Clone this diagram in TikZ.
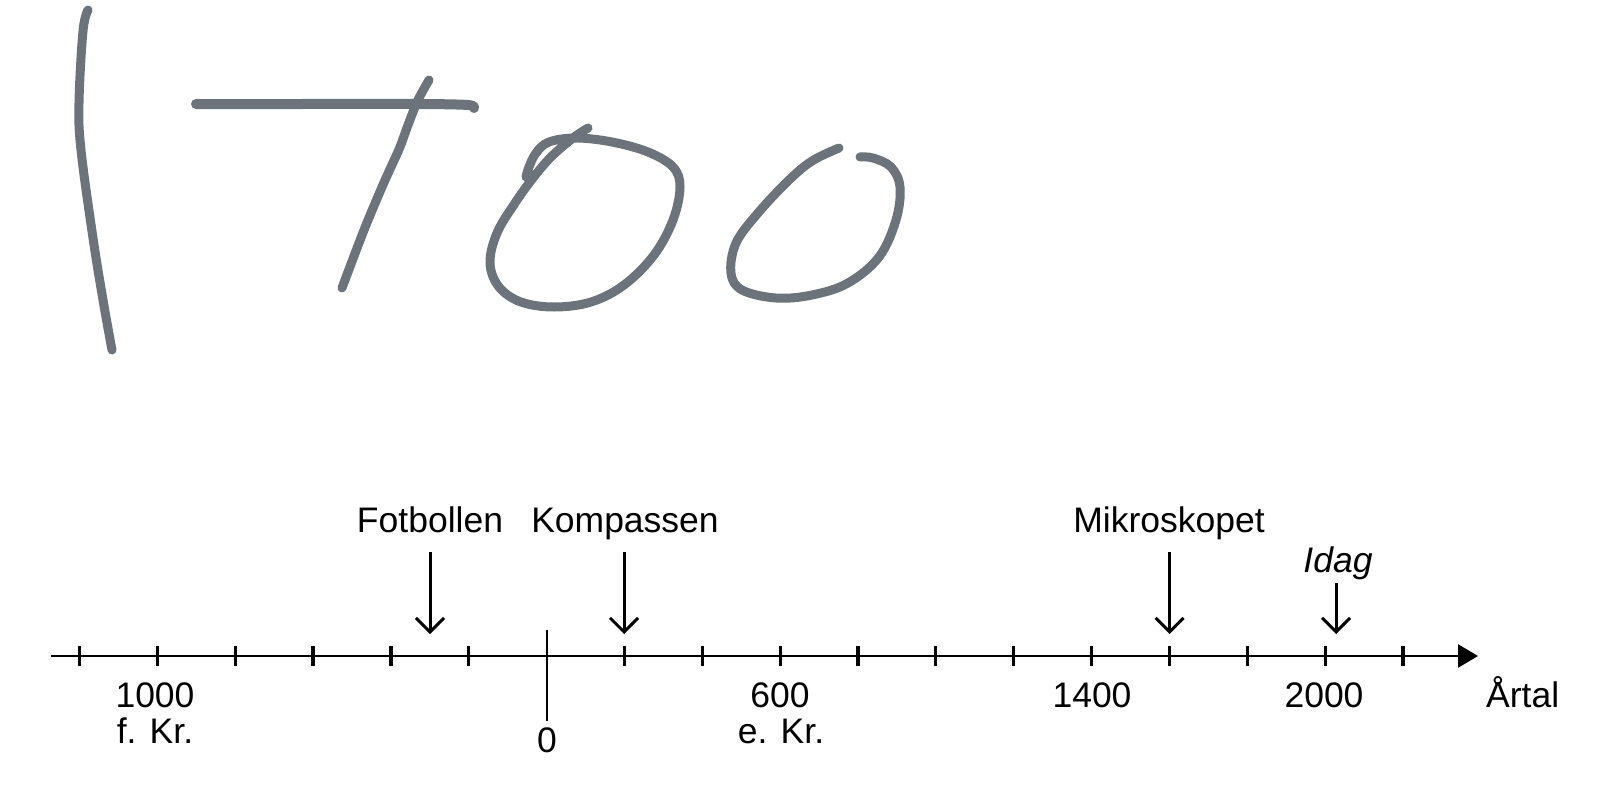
\documentclass[tikz,border=0pt]{standalone}
\usepackage{fontspec}
\setmainfont{Liberation Sans}
\usetikzlibrary{arrows.meta}
\definecolor{pen}{RGB}{108,115,122}
\tikzset{
  hand/.style={draw=pen, line width=9pt, line cap=round, line join=round},
  axisline/.style={line width=2.8pt, -{Triangle[length=20pt,width=23pt]}},
  tickmark/.style={line width=3.2pt},
  pointer/.style={line width=3pt, -{Straight Barb[length=14pt,width=28pt]}},
  lbl/.style={font=\fontsize{35.5}{40}\selectfont, anchor=base, inner sep=0pt},
}
\begin{document}
\begin{tikzpicture}[x=1pt,y=-1pt]
\useasboundingbox (0,0) rectangle (1622,800);
% handwritten 1700
\draw[hand] plot[smooth, tension=0.6] coordinates {(88,10) (83,31) (79,103) (81,150) (93,238) (103,300) (112,350)};
\draw[hand, line width=10pt] plot[smooth, tension=0.5] coordinates {(196,104) (300,104) (420,104) (468,105) (474,108)};
\draw[hand] plot[smooth, tension=0.5] coordinates {(429,80) (418,100) (408,125) (400,147) (391,167) (382,187) (364,230) (342,288)};
\draw[hand] plot[smooth, tension=0.6] coordinates {(588,128) (573,138) (551,157) (533,178) (515,203) (497,233) (490,263) (499,287) (521,302) (554,307) (591,302) (624,285) (654,255) (673,220) (680,187) (673,167) (648,152) (612,142) (576,138) (549,142) (536,153) (529,167) (526,177)};
\draw[hand] plot[smooth, tension=0.6] coordinates {(839,148) (812,161) (788,181) (758,213) (736,243) (731,273) (742,290) (776,298) (812,295) (848,283) (879,257) (896,220) (900,187) (891,167) (873,158) (860,157)};
% axis
\coordinate (axstart) at (51,656);
\coordinate (axend) at (1478,656);
\draw[axisline] (axstart) -- (axend);
\foreach \i in {0,...,17}{
  \pgfmathsetmacro{\xx}{79.5+77.85*\i}
  \ifnum\i=6\else
    \coordinate (t\i a) at (\xx,646);
    \coordinate (t\i b) at (\xx,666);
    \draw[tickmark] (t\i a) -- (t\i b);
  \fi
}
\coordinate (z0a) at (546.6,630);
\coordinate (z0b) at (546.6,721);
\draw[line width=1.8pt] (z0a) -- (z0b);
% labels
\node[lbl] (fot) at (430,532) {Fotbollen};
\node[lbl] (kom) at (625,532) {Kompassen};
\node[lbl] (mik) at (1169,532) {Mikroskopet};
\node[lbl] (idag) at (1338,572) {\itshape Idag};
\node[lbl] (y1000) at (155,707) {1000};
\node[lbl] (fkr) at (155,743) {f. Kr.};
\node[lbl] (y0) at (547,752) {0};
\node[lbl] (y600) at (780,707) {600};
\node[lbl] (ekr) at (781,743) {e. Kr.};
\node[lbl] (y1400) at (1092,707) {1400};
\node[lbl] (y2000) at (1324,707) {2000};
\node[lbl, anchor=base west] (artal) at (1486,707) {Årtal};
% pointers
\coordinate (pf1) at (430,552); \coordinate (pf2) at (430,634);
\coordinate (pk1) at (624,552); \coordinate (pk2) at (624,634);
\coordinate (pm1) at (1169.6,552); \coordinate (pm2) at (1169.6,634);
\coordinate (pi1) at (1336,583); \coordinate (pi2) at (1336,634);
\draw[pointer] (pf1) -- (pf2);
\draw[pointer] (pk1) -- (pk2);
\draw[pointer] (pm1) -- (pm2);
\draw[pointer] (pi1) -- (pi2);
\end{tikzpicture}
\end{document}
